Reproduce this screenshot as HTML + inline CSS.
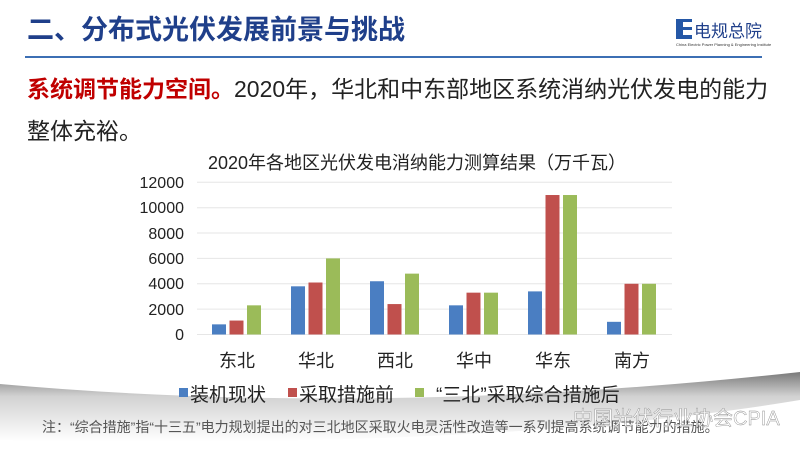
<!DOCTYPE html>
<html><head><meta charset="utf-8"><style>
body{margin:0;width:800px;height:456px;background:#fff;overflow:hidden;position:relative;font-family:"Liberation Sans","Noto Sans CJK SC",sans-serif}
.t{position:absolute;white-space:nowrap}
</style></head><body>
<svg width="800" height="456" style="position:absolute;left:0;top:0">
<defs>
<linearGradient id="g" x1="0" y1="0" x2="0" y2="1">
<stop offset="0" stop-color="#7a7a7a"/><stop offset="0.35" stop-color="#d2d2d2"/><stop offset="1" stop-color="#ffffff"/>
</linearGradient>
</defs>
<path d="M0,384 Q380,418 800,372 L800,400 Q500,450 0,440 Z" fill="url(#g)"/>
<line x1="25" y1="57" x2="762" y2="57" stroke="#3c6fb4" stroke-width="2"/>
<rect x="676" y="19" width="7" height="20" fill="#2457a6"/>
<rect x="683" y="19" width="9" height="3" fill="#2457a6"/><rect x="683" y="27" width="9" height="3" fill="#2457a6"/><rect x="683" y="35" width="9" height="4" fill="#2457a6"/>
<g stroke="#e6e6e6" stroke-width="1">
<line x1="197" y1="182.3" x2="672" y2="182.3"/><line x1="197" y1="207.7" x2="672" y2="207.7"/><line x1="197" y1="233" x2="672" y2="233"/><line x1="197" y1="258.4" x2="672" y2="258.4"/><line x1="197" y1="283.8" x2="672" y2="283.8"/><line x1="197" y1="309.1" x2="672" y2="309.1"/><line x1="197" y1="334.5" x2="672" y2="334.5"/>
</g>
<g id="bars"></g>
<g font-size="16" fill="#222" text-anchor="end" font-family="Liberation Sans,sans-serif">
<text x="184" y="188">12000</text><text x="184" y="213">10000</text><text x="184" y="239">8000</text><text x="184" y="264">6000</text><text x="184" y="289">4000</text><text x="184" y="315">2000</text><text x="184" y="340">0</text>
</g>
<g font-size="18" fill="#222" text-anchor="middle" font-family="Liberation Sans,Noto Sans CJK SC,sans-serif">
<text x="237" y="367">东北</text><text x="316" y="367">华北</text><text x="395" y="367">西北</text><text x="474" y="367">华中</text><text x="553" y="367">华东</text><text x="632" y="367">南方</text>
</g>
<rect x="179" y="388" width="9" height="9" fill="#4a7ec2"/>
<rect x="288" y="388" width="9" height="9" fill="#c0504d"/>
<rect x="415" y="388" width="9" height="9" fill="#9bbb59"/>
<g font-size="19" fill="#222" font-family="Liberation Sans,Noto Sans CJK SC,sans-serif">
<text x="190" y="401">装机现状</text><text x="299" y="401">采取措施前</text><text x="436" y="401">“三北”采取综合措施后</text>
</g>
<text x="42" y="432" font-size="14" fill="#555" font-family="Liberation Sans,Noto Sans CJK SC,sans-serif">注：“综合措施”指“十三五”电力规划提出的对三北地区采取火电灵活性改造等一系列提高系统调节能力的措施。</text>
<text x="573" y="425" font-size="20" fill="#fff" fill-opacity="0.85" stroke="#888" stroke-width="0.4" font-family="Liberation Sans,Noto Sans CJK SC,sans-serif">中国光伏行业协会CPIA</text>
</svg>
<div class="t" style="left:27px;top:8px;font-size:27px;font-weight:bold;color:#1f3f8a">二、分布式光伏发展前景与挑战</div>
<div class="t" style="left:694px;top:17px;font-size:17px;color:#1f3f8a">电规总院</div>
<div class="t" style="left:676px;top:42px;font-size:4px;color:#333">China Electric Power Planning &amp; Engineering Institute</div>
<div class="t" style="left:27px;top:70px;font-size:23px;color:#222"><span style="color:#c00000;font-weight:bold">系统调节能力空间。</span>2020年，华北和中东部地区系统消纳光伏发电的能力</div>
<div class="t" style="left:27px;top:112px;font-size:23px;color:#222">整体充裕。</div>
<div class="t" style="left:208px;top:149px;font-size:18px;color:#222">2020年各地区光伏发电消纳能力测算结果（万千瓦）</div>
<script>
var d=[[800,1100,2300],[3800,4100,6000],[4200,2400,4800],[2300,3300,3300],[3400,11000,11000],[1000,4000,4000]];
var c=["#4a7ec2","#c0504d","#9bbb59"],s="";
d.forEach(function(g,i){var cx=237+79*i;g.forEach(function(v,j){var h=v*0.01268;s+='<rect x="'+(cx-25+j*17.5)+'" y="'+(334.5-h)+'" width="14" height="'+h+'" fill="'+c[j]+'"/>';});});
document.getElementById("bars").innerHTML=s;
</script>
</body></html>
